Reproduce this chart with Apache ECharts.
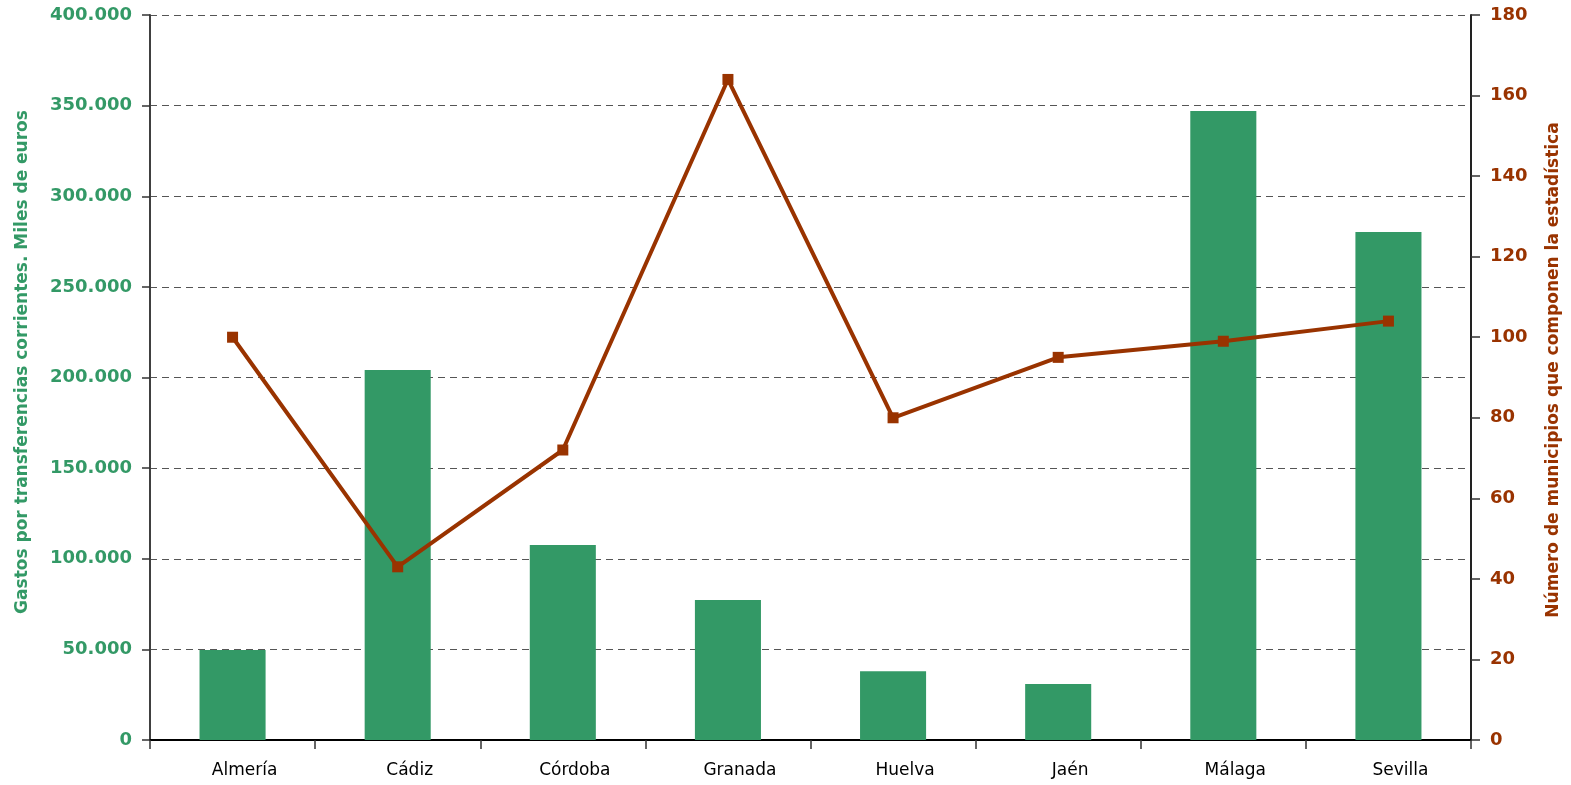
<!DOCTYPE html>
<html>
<head>
<meta charset="utf-8">
<script src="https://cdn.jsdelivr.net/npm/echarts@6/dist/echarts.min.js"></script>
<style>
html,body{margin:0;padding:0;background:#fff;}
#chart{width:1571px;height:785px;}
</style>
</head>
<body>
<div id="chart"></div>
<script>
const categories = ['Almería', 'Cádiz', 'Córdoba', 'Granada', 'Huelva', 'Jaén', 'Málaga', 'Sevilla'];
const gastos = [49600, 204100, 107600, 77200, 38000, 30900, 347000, 280300];
const municipios = [100, 43, 72, 164, 80, 95, 99, 104];
const leftTicks = [0, 50000, 100000, 150000, 200000, 250000, 300000, 350000, 400000];
const rightTicks = [0, 20, 40, 60, 80, 100, 120, 140, 160, 180];
const leftName = 'Gastos por transferencias corrientes. Miles de euros';
const rightName = 'Número de municipios que componen la estadística';

const GREEN = '#339966';
const BROWN = '#993300';
const FONT = '"DejaVu Sans", Verdana, sans-serif';

function fmt(v) {
  return String(v).replace(/\B(?=(\d{3})+(?!\d))/g, '.');
}

const chart = echarts.init(document.getElementById('chart'), null, {renderer: 'canvas'});
chart.setOption({
  animation: false,
  backgroundColor: '#ffffff',
  grid: {left: 150, right: 100, top: 15, bottom: 45, containLabel: false},
  graphic: [
    {
      type: 'text', x: 23, y: 362, rotation: Math.PI / 2,
      style: {text: leftName, fill: GREEN, font: 'bold 17px ' + FONT, textAlign: 'center', textVerticalAlign: 'middle'}
    },
    {
      type: 'text', x: 1554, y: 370, rotation: Math.PI / 2,
      style: {text: rightName, fill: BROWN, font: 'bold 17px ' + FONT, textAlign: 'center', textVerticalAlign: 'middle'}
    }
  ],
  xAxis: {
    type: 'category',
    data: categories,
    boundaryGap: true,
    axisLine: {show: true, lineStyle: {color: '#000', width: 2}},
    axisTick: {show: true, alignWithLabel: false, length: 9, inside: false, lineStyle: {color: '#333', width: 1.5}},
    axisLabel: {color: '#000', fontFamily: FONT, fontSize: 17, margin: 22, padding: [0, 0, 0, 24]},
    splitLine: {show: false}
  },
  yAxis: [
    {
      type: 'value',
      min: leftTicks[0],
      max: leftTicks[leftTicks.length - 1],
      interval: leftTicks[1] - leftTicks[0],
      position: 'left',
      axisLine: {show: true, lineStyle: {color: '#404040', width: 2}},
      axisTick: {show: true, length: 8, lineStyle: {color: '#333', width: 1.5}},
      axisLabel: {color: GREEN, fontFamily: FONT, fontSize: 18, fontWeight: 'bold', margin: 18, formatter: fmt},
      splitLine: {show: true, lineStyle: {color: '#555', width: 1.2, type: [7, 5]}}
    },
    {
      type: 'value',
      min: rightTicks[0],
      max: rightTicks[rightTicks.length - 1],
      interval: rightTicks[1] - rightTicks[0],
      position: 'right',
      axisLine: {show: true, lineStyle: {color: '#222', width: 2}},
      axisTick: {show: true, length: 9, lineStyle: {color: '#333', width: 1.5}},
      axisLabel: {color: BROWN, fontFamily: FONT, fontSize: 18, fontWeight: 'bold', margin: 19},
      splitLine: {show: false}
    }
  ],
  series: [
    {
      type: 'bar',
      yAxisIndex: 0,
      data: gastos,
      barWidth: '40%',
      itemStyle: {color: GREEN},
      z: 2
    },
    {
      type: 'line',
      yAxisIndex: 1,
      data: municipios,
      symbol: 'rect',
      symbolSize: 11,
      lineStyle: {color: BROWN, width: 4},
      itemStyle: {color: BROWN},
      z: 3
    }
  ]
});
</script>
</body>
</html>
